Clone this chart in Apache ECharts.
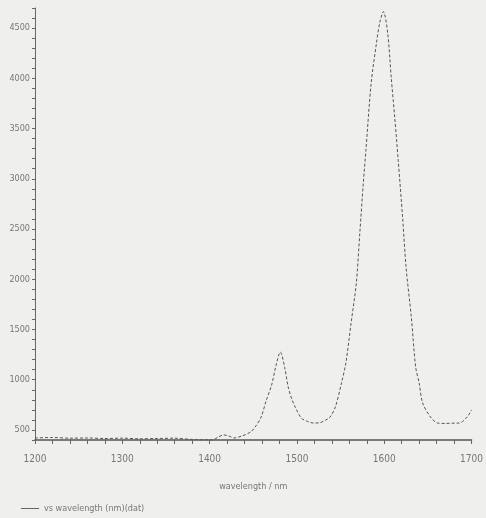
<!DOCTYPE html>
<html>
<head>
<meta charset="utf-8">
<script src="https://cdn.jsdelivr.net/npm/echarts@6/dist/echarts.min.js"></script>
<style>html,body{margin:0;padding:0;background:#efefed;}#c{width:486px;height:518px;}</style>
</head>
<body>
<div id="c"></div>
<script>
const wavelengths = [1200,1220,1240,1260,1280,1300,1320,1340,1360,1380,1400,1403,1410,1416,1422,1428,1437,1447,1453,1459,1465,1471,1476,1481,1486,1490,1494,1498,1505,1512,1519,1526,1533,1538,1544,1551,1556,1562,1568,1572,1576,1579,1585,1591,1595,1599,1604,1608,1612,1616,1621,1625,1631,1636,1640,1644,1653,1661,1670,1680,1686,1695,1700];
const intensities = [420,425,418,420,415,418,412,415,418,405,400,400,430,450,440,420,440,480,540,629,798,947,1140,1275,1120,927,810,728,619,585,569,572,599,629,728,967,1165,1563,1961,2458,2955,3283,3949,4346,4560,4664,4446,4008,3611,3183,2617,2120,1623,1126,967,768,629,569,565,568,569,629,700];
const xTicks = [1200,1300,1400,1500,1600,1700];
const yTicks = [500,1000,1500,2000,2500,3000,3500,4000,4500];
const seriesName = 'vs wavelength (nm)(dat)';
const xName = 'wavelength / nm';

const chart = echarts.init(document.getElementById('c'));
const font = 'Liberation Sans Narrow, DejaVu Sans Condensed, sans-serif';
chart.setOption({
  backgroundColor: '#efefed',
  animation: false,
  grid: {left: 35, right: 12, top: 8, bottom: 78},
  xAxis: {
    type: 'value', min: 1200, max: 1700, interval: 20,
    name: xName, nameLocation: 'middle', nameGap: 42,
    nameTextStyle: {color: '#777', fontSize: 9, fontFamily: font},
    axisLine: {lineStyle: {color: '#555', width: 1.5}},
    axisTick: {lineStyle: {color: '#666'}, length: 4},
    axisLabel: {color: '#777', fontSize: 10, fontFamily: font, margin: 14,
      formatter: v => xTicks.includes(v) ? String(v) : ''},
    splitLine: {show: false}
  },
  yAxis: {
    type: 'value', min: 400, max: 4700, interval: 100,
    axisLine: {show: true, lineStyle: {color: '#666', width: 1}},
    axisTick: {show: true, lineStyle: {color: '#666'}, length: 3},
    axisLabel: {color: '#777', fontSize: 9, fontFamily: font, margin: 5,
      formatter: v => yTicks.includes(v) ? String(v) : ''},
    splitLine: {show: false}
  },
  legend: {
    left: 16, bottom: 0, icon: 'rect', itemWidth: 18, itemHeight: 1,
    textStyle: {color: '#777', fontSize: 9, fontFamily: font},
    data: [seriesName]
  },
  series: [{
    name: seriesName, type: 'line', smooth: 0.3, symbol: 'none',
    data: wavelengths.map((w, i) => [w, intensities[i]]),
    lineStyle: {color: '#555', width: 1, type: [3, 2]},
    itemStyle: {color: '#666'}
  }]
});
</script>
</body>
</html>
